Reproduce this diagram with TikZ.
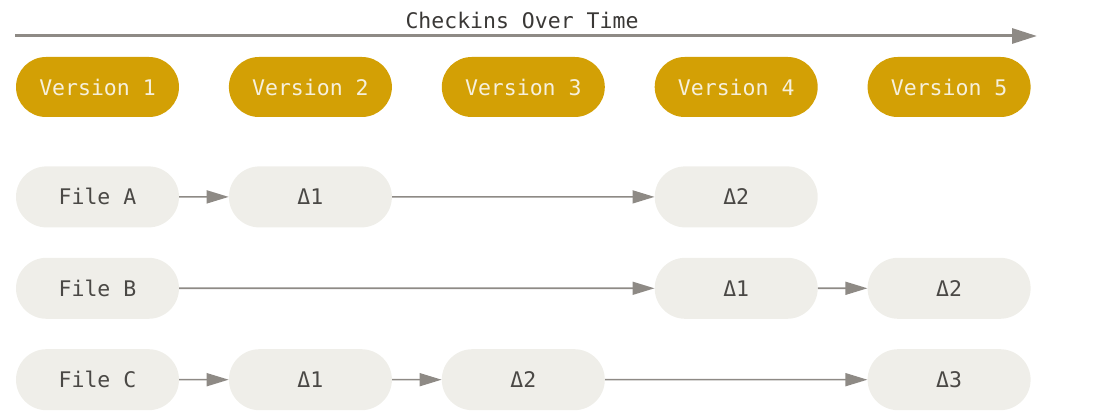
\documentclass[tikz,border=0pt]{standalone}
\usepackage{fontspec}
\setmonofont{DejaVu Sans Mono}
\usetikzlibrary{arrows.meta, positioning, shapes.misc}
\definecolor{cVersionBg}{HTML}{D3A005}
\definecolor{cVersionText}{HTML}{F6F0DC}
\definecolor{cFileBg}{HTML}{EFEEE9}
\definecolor{cFileText}{HTML}{4A4845}
\definecolor{cArrow}{HTML}{8E8A85}
\definecolor{cTitle}{HTML}{3A3836}

\begin{document}
\begin{tikzpicture}[
    x=1pt, y=1pt,
    font=\ttfamily\fontsize{21.5}{25}\selectfont,
    % pill styles
    version/.style={rounded rectangle, fill=cVersionBg, text=cVersionText, minimum width=163pt, minimum height=60pt, inner sep=0pt},
    filebox/.style={rounded rectangle, fill=cFileBg, text=cFileText, minimum width=163pt, minimum height=61pt, inner sep=0pt},
    % arrow styles
    timeline/.style={-{Triangle[length=25pt, width=15pt]}, line width=3pt, color=cArrow},
    arrow/.style={-{Triangle[length=22pt, width=13pt]}, line width=1.6pt, color=cArrow}
]
\useasboundingbox (0,0) rectangle (1094,412);

% --- TIMELINE ---
\coordinate (t_start) at (15,376);
\coordinate (t_end) at (1037,376);
\draw[timeline] (t_start) -- (t_end);
\node[text=cTitle] (title) at (522,392) {Checkins Over Time};

% --- VERSIONS ---
\node[version] (v1) at (97.5,325) {Version 1};
\foreach \i [evaluate=\i as \j using int(\i-1)] in {2,...,5} {
    \node[version, right=49.5pt of v\j] (v\i) {Version \i};
}

% --- FILES ---
\node[filebox, below=49pt of v1] (fa) {File A};
\node[filebox, below=30pt of fa] (fb) {File B};
\node[filebox, below=30pt of fb] (fc) {File C};

% Deltas
\node[filebox] (a1) at (v2 |- fa) {Δ1};
\node[filebox] (a2) at (v4 |- fa) {Δ2};
\node[filebox] (b1) at (v4 |- fb) {Δ1};
\node[filebox] (b2) at (v5 |- fb) {Δ2};
\node[filebox] (c1) at (v2 |- fc) {Δ1};
\node[filebox] (c2) at (v3 |- fc) {Δ2};
\node[filebox] (c3) at (v5 |- fc) {Δ3};

% --- ARROWS ---
\draw[arrow] (fa) -- (a1);
\draw[arrow] (a1) -- (a2);
\draw[arrow] (fb) -- (b1);
\draw[arrow] (b1) -- (b2);
\draw[arrow] (fc) -- (c1);
\draw[arrow] (c1) -- (c2);
\draw[arrow] (c2) -- (c3);

\end{tikzpicture}
\end{document}
